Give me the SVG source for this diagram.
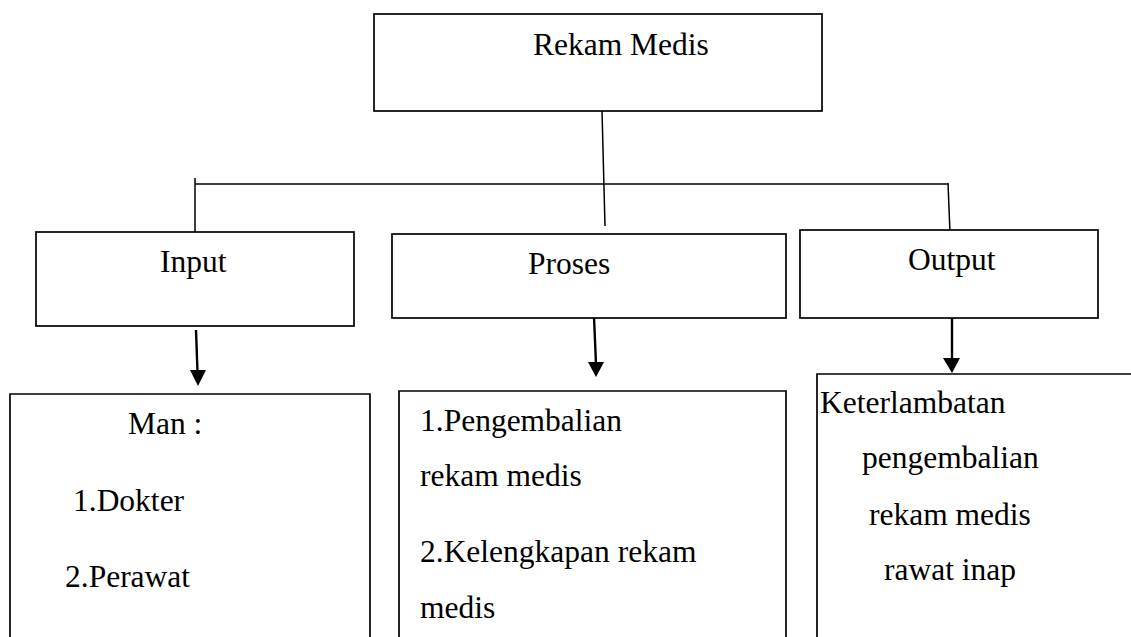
<svg xmlns="http://www.w3.org/2000/svg" width="1131" height="637" viewBox="0 0 1131 637">
<style>
.box{fill:#fff;stroke:#000;stroke-width:1.7}
.ln{stroke:#000;stroke-width:1.5;fill:none}
.ar{stroke:#000;stroke-width:2.4;fill:none}
.t{font-family:"Liberation Serif","Times New Roman",serif;font-size:31.5px;fill:#000}
</style>
<rect width="1131" height="637" fill="#fff"/>
<g id="connectors">
<line class="ln" x1="602" y1="111" x2="605" y2="226"/>
<line class="ln" x1="195" y1="184" x2="948" y2="184"/>
<line class="ln" x1="195" y1="178" x2="195" y2="232"/>
<line class="ln" x1="948" y1="183" x2="950" y2="233"/>
<line class="ar" x1="196" y1="330" x2="197.5" y2="372"/>
<path d="M190,370 L206,370 L198,386 Z" fill="#000"/>
<line class="ar" x1="594" y1="317" x2="596" y2="364"/>
<path d="M588,362 L604,362 L596,377 Z" fill="#000"/>
<line class="ar" x1="952" y1="313" x2="952" y2="360"/>
<path d="M943,358 L960,358 L952,373 Z" fill="#000"/>
</g>
<g id="rekam-medis">
<rect class="box" x="374" y="14" width="448" height="97"/>
<text class="t" x="533" y="55">Rekam Medis</text>
</g>
<g id="input">
<rect class="box" x="36" y="232" width="318" height="94"/>
<text class="t" x="160" y="272">Input</text>
</g>
<g id="proses">
<rect class="box" x="392" y="234" width="394" height="84"/>
<text class="t" x="528" y="274">Proses</text>
</g>
<g id="output">
<rect class="box" x="800" y="230" width="298" height="88"/>
<text class="t" x="908" y="270">Output</text>
</g>
<g id="input-detail">
<path class="box" d="M10,640 L10,394 L370,394 L370,640"/>
<text class="t" x="128" y="434">Man :</text>
<text class="t" x="73" y="511">1.Dokter</text>
<text class="t" x="65" y="587">2.Perawat</text>
</g>
<g id="proses-detail">
<path class="box" d="M399,640 L399,391 L786,391 L786,640"/>
<text class="t" x="420" y="431">1.Pengembalian</text>
<text class="t" x="420" y="486">rekam medis</text>
<text class="t" x="420" y="562">2.Kelengkapan rekam</text>
<text class="t" x="420" y="618">medis</text>
</g>
<g id="output-detail">
<path class="box" d="M817,640 L817,374 L1135,374"/>
<text class="t" x="820" y="413">Keterlambatan</text>
<text class="t" x="862" y="468">pengembalian</text>
<text class="t" x="869" y="525">rekam medis</text>
<text class="t" x="884" y="580">rawat inap</text>
</g>
</svg>
